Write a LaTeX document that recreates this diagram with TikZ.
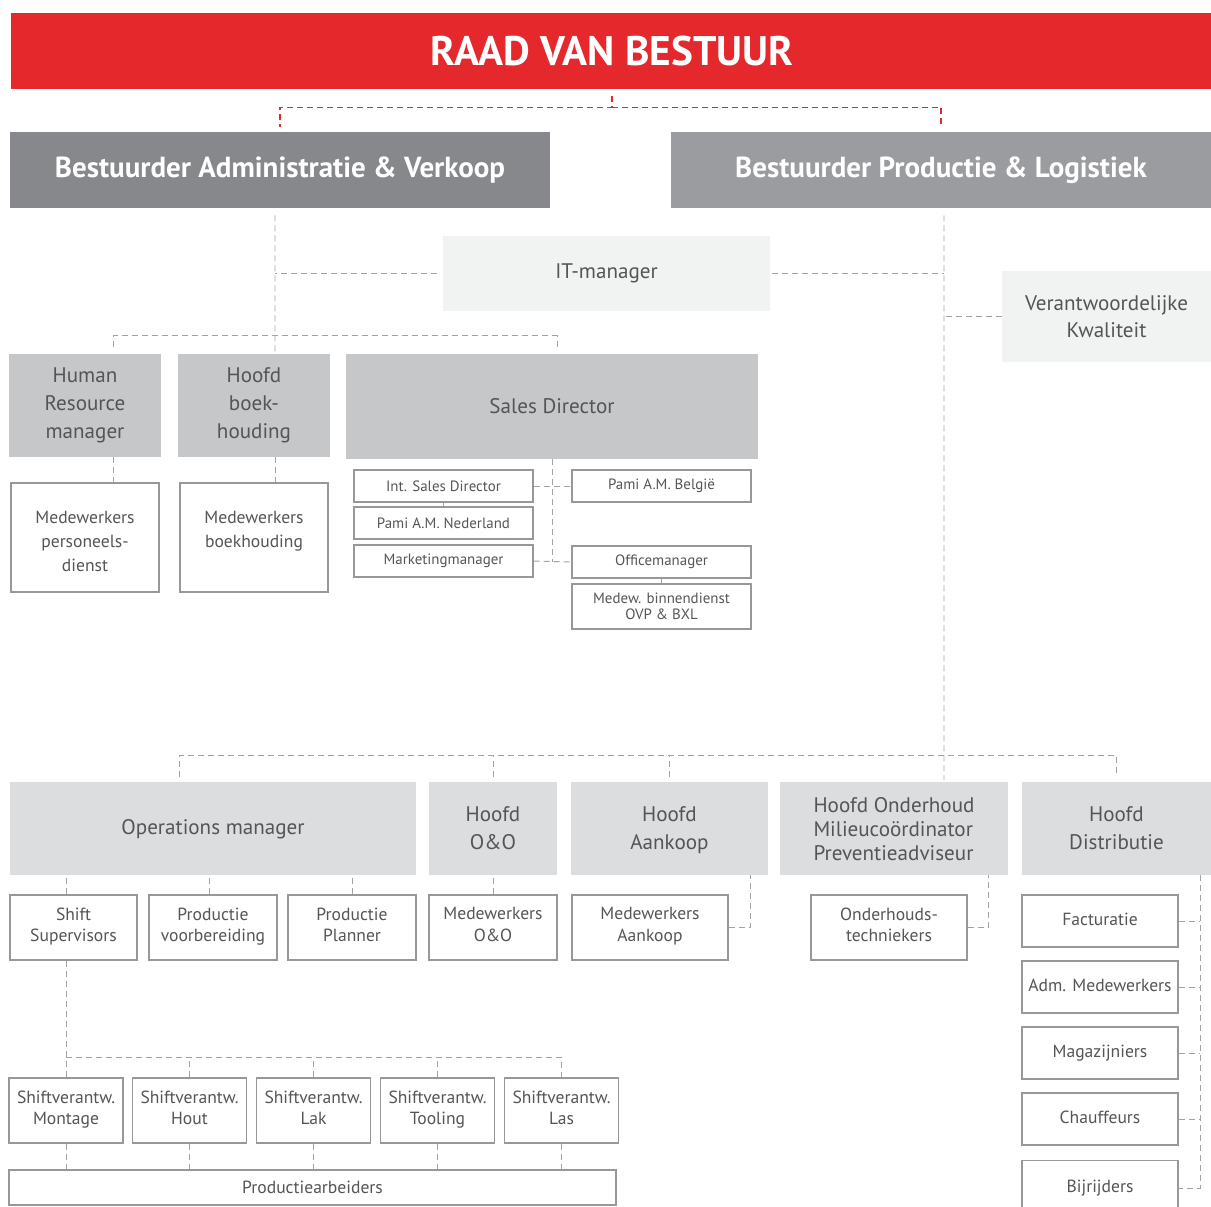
\documentclass[tikz,border=0pt]{standalone}
\usepackage{fontspec}
\setmainfont{PT Sans}
\newfontfamily\headfont{PT Sans}
\usepackage{tikz}

\definecolor{rood}{HTML}{E4282B}
\definecolor{donker}{HTML}{87888C}
\definecolor{midden}{HTML}{9B9C9F}
\definecolor{grijs}{HTML}{C6C7C9}
\definecolor{licht}{HTML}{DCDDDF}
\definecolor{zacht}{HTML}{F1F2F2}
\definecolor{tekst}{HTML}{555557}
\definecolor{rand}{HTML}{97989A}
\definecolor{lijn}{HTML}{A3A3A5}

\newcommand{\boven}[1]{\rule{0pt}{#1}}

\begin{document}
\begin{tikzpicture}[x=0.2mm,y=-0.2mm]
\tikzstyle{every node}+=[inner sep=0pt, align=center, text=tekst]
\tikzstyle{bestbox}=[minimum width=108mm, minimum height=15.2mm, text=white, font=\headfont\bfseries\fontsize{16.5}{19}\selectfont]
\tikzstyle{zachtbox}=[fill=zacht, font=\fontsize{12}{15.5}\selectfont]
\tikzstyle{grijsbox}=[fill=grijs, minimum height=20.6mm, font=\fontsize{12}{16}\selectfont]
\tikzstyle{lichtbox}=[fill=licht, minimum height=18.6mm, font=\fontsize{12}{16}\selectfont, execute at end node=\strut]
\tikzstyle{randbox}=[draw=rand, line width=0.6pt, fill=white, font=\fontsize{10}{12}\selectfont]
\tikzstyle{witbox}=[randbox, execute at end node=\strut]
\tikzstyle{dienstbox}=[randbox, minimum width=29.6mm, minimum height=21.8mm, font=\fontsize{10}{13.6}\selectfont]
\tikzstyle{salesbox}=[draw=rand, line width=0.6pt, minimum width=35.8mm, minimum height=6.4mm, font=\fontsize{8.5}{9}\selectfont]
\tikzstyle{lijnd}=[draw=lijn, line width=0.55pt, dash pattern=on 1.2mm off 0.8mm]
\tikzstyle{lijnr}=[draw=rood, line width=0.7pt, dash pattern=on 1.2mm off 0.8mm]
\tikzstyle{lijns}=[draw=lijn, line width=0.55pt]
\useasboundingbox (0,0) rectangle (1211,1207);

% top
\node[fill=rood, minimum width=240.2mm, minimum height=15.2mm, text=white, font=\headfont\bfseries\fontsize{23.5}{27}\selectfont] (raad) at (612,51) {RAAD VAN BESTUUR};
\node[bestbox, fill=donker] (bav) at (280,170) {Bestuurder Administratie \& Verkoop};
\node[bestbox, fill=midden] (bpl) at (941,170) {Bestuurder Productie \& Logistiek};
\node[zachtbox, minimum width=65.4mm, minimum height=15mm] (it) at (606.5,273.5) {IT-manager};
\node[zachtbox, minimum width=41.8mm, minimum height=18.2mm] (kwal) at (1106.5,316.5) {Verantwoordelijke\\Kwaliteit};

% administratie & verkoop
\node[grijsbox, minimum width=30.4mm] (hr) at (85,405.5) {Human\\Resource\\manager};
\node[grijsbox, minimum width=30.4mm] (hb) at (254,405.5) {Hoofd\\boek-\\houding};
\node[grijsbox, minimum width=82.4mm, minimum height=21mm] (sd) at (552,406.5) {Sales Director};
\node[dienstbox] (mpd) at (85,537.5) {\boven{11.5pt}Medewerkers\\personeels-\\dienst};
\node[dienstbox] (mbh) at (254,537.5) {\boven{11.5pt}Medewerkers\\boekhouding\\\mbox{}};
\node[salesbox] (isd) at (443.5,486) {Int. Sales Director};
\node[salesbox] (pnl) at (443.5,523) {Pami A.M. Nederland};
\node[salesbox] (mkt) at (443.5,561) {Marketingmanager};
\node[salesbox] (pbe) at (661.5,486) {Pami A.M. België};
\node[salesbox] (ofm) at (661.5,562) {Officemanager};
\node[salesbox, minimum height=9mm] (mbd) at (661.5,606.5) {Medew. binnendienst\\OVP \& BXL};

% productie & logistiek
\node[lichtbox, minimum width=81.2mm] (ops) at (213,828.5) {Operations manager};
\node[lichtbox, minimum width=25.6mm] (hoo) at (493,828.5) {\boven{13pt}Hoofd\\O\&O};
\node[lichtbox, minimum width=39.4mm] (hak) at (669.5,828.5) {\boven{13pt}Hoofd\\Aankoop};
\node[lichtbox, minimum width=45.6mm, align=left, font=\fontsize{12}{13.6}\selectfont] (hon) at (894,828.5) {\boven{13pt}Hoofd Onderhoud\\Milieucoördinator\\Preventieadviseur\hspace{1.8mm}};
\node[lichtbox, minimum width=37.8mm] (hdi) at (1116.5,828.5) {\boven{13pt}Hoofd\\Distributie};

\node[witbox, minimum width=25.4mm, minimum height=13mm] (shs) at (73.5,927.5) {Shift\\Supervisors};
\node[witbox, minimum width=25.6mm, minimum height=13mm] (pvb) at (213,927.5) {Productie\\voorbereiding};
\node[witbox, minimum width=25.6mm, minimum height=13mm] (ppl) at (352,927.5) {Productie\\Planner};
\node[witbox, minimum width=25.6mm, minimum height=13mm] (moo) at (493,927.5) {Medewerkers\\O\&O};
\node[witbox, minimum width=31.2mm, minimum height=13mm] (mak) at (650,927.5) {Medewerkers\\Aankoop};
\node[witbox, minimum width=31.2mm, minimum height=13mm] (oht) at (889,927.5) {Onderhouds-\\techniekers};

\node[witbox, minimum width=31.2mm, minimum height=10.4mm] (fac) at (1100,921) {Facturatie};
\node[witbox, minimum width=31.2mm, minimum height=10.4mm] (adm) at (1100,987) {Adm. Medewerkers};
\node[witbox, minimum width=31.2mm, minimum height=10.4mm] (mag) at (1100,1053) {Magazijniers};
\node[witbox, minimum width=31.2mm, minimum height=10.4mm] (cha) at (1100,1119) {Chauffeurs};
\node[witbox, minimum width=31.2mm, minimum height=11mm] (bij) at (1100,1188) {Bijrijders};

\node[witbox, minimum width=22.8mm, minimum height=13mm] (svm) at (66,1110.5) {Shiftverantw.\\Montage};
\node[witbox, minimum width=22.8mm, minimum height=13mm] (svh) at (189.5,1110.5) {Shiftverantw.\\Hout};
\node[witbox, minimum width=22.8mm, minimum height=13mm] (svk) at (313.5,1110.5) {Shiftverantw.\\Lak};
\node[witbox, minimum width=22.8mm, minimum height=13mm] (svt) at (437.5,1110.5) {Shiftverantw.\\Tooling};
\node[witbox, minimum width=22.8mm, minimum height=13mm] (svl) at (561.5,1110.5) {Shiftverantw.\\Las};
\node[randbox, minimum width=121.4mm, minimum height=7mm] (pra) at (312.5,1187.5) {Productiearbeiders};

% red lines
\draw[lijnr] ([yshift=-1.4mm]raad.south) -- ++(0,11) -| ([yshift=1mm]bav.north);
\draw[lijnr] ([yshift=-3.6mm]raad.south) -| ([yshift=1mm]bpl.north);

% grey lines top half
\coordinate (av) at ([xshift=-1mm,yshift=-1.4mm]bav.south);
\coordinate (pl) at ([xshift=0.6mm,yshift=-1.4mm]bpl.south);
\draw[lijnd] (av) -- ([xshift=4.2mm,yshift=0.2mm]hb.north);
\draw[lijnd] (pl) -- ([xshift=10mm,yshift=0.4mm]hon.north);
\draw[lijnd, shorten <=1.2mm] (it.west) -- (it.west -| av);
\draw[lijnd, shorten <=0.4mm] (it.east) -- (it.east -| pl);
\draw[lijnd] (kwal.west) -- (kwal.west -| pl);
\draw[lijnd] ([xshift=5.6mm,yshift=1.4mm]hr.north) -- ++(0,-11) -| ([xshift=1mm,yshift=1mm]sd.north);
\draw[lijnd] ([xshift=5.6mm]hr.south) -- ([xshift=5.6mm]mpd.north);
\draw[lijnd] ([xshift=4.2mm]hb.south) -- ([xshift=4.2mm]mbh.north);
\draw[lijnd] (sd.south) -- (sd.south |- ofm.west);
\draw[lijnd] (isd.east) -- (pbe.west);
\draw[lijnd] (mkt.east) -- (ofm.west);
\draw[lijns] (isd.south) -- (pnl.north);
\draw[lijns] (ofm.south) -- (mbd.north);

% grey lines bottom half
\draw[lijnd] ([xshift=-6.8mm,yshift=1mm]ops.north) -- ++(0,-21) -| ([yshift=1mm]hdi.north);
\foreach \n in {hoo,hak}
  \draw[lijnd] ([yshift=1mm]\n.north) -- ++(0,-21);
\draw[lijnd] ([xshift=-1.5mm]shs.north) -- ([xshift=-1.5mm]shs.north |- ops.south);
\draw[lijnd] ([xshift=-0.8mm]pvb.north) -- ([xshift=-0.8mm]pvb.north |- ops.south);
\draw[lijnd] (ppl.north) -- (ppl.north |- ops.south);
\draw[lijnd] (moo.north) -- (hoo.south);
\draw[lijnd] (mak.east) -| ([xshift=16.1mm]hak.south);
\draw[lijnd] (oht.east) -| ([xshift=18.8mm]hon.south);
\coordinate (dv) at ([xshift=16.7mm]hdi.south);
\draw[lijnd] (dv) |- (bij.east);
\foreach \n in {fac,adm,mag,cha}
  \draw[lijnd] (\n.east) -- (\n.east -| dv);
\draw[lijnd] (svm.north) -- (svm.north |- shs.south);
\draw[lijnd] (svm.north) ++(0,-20) -| (svl.north);
\foreach \n in {svh,svk,svt}
  \draw[lijnd] (\n.north) -- ++(0,-20);
\foreach \n in {svm,svh,svk,svt,svl}
  \draw[lijnd] (\n.south) -- (\n.south |- pra.north);
\end{tikzpicture}
\end{document}
